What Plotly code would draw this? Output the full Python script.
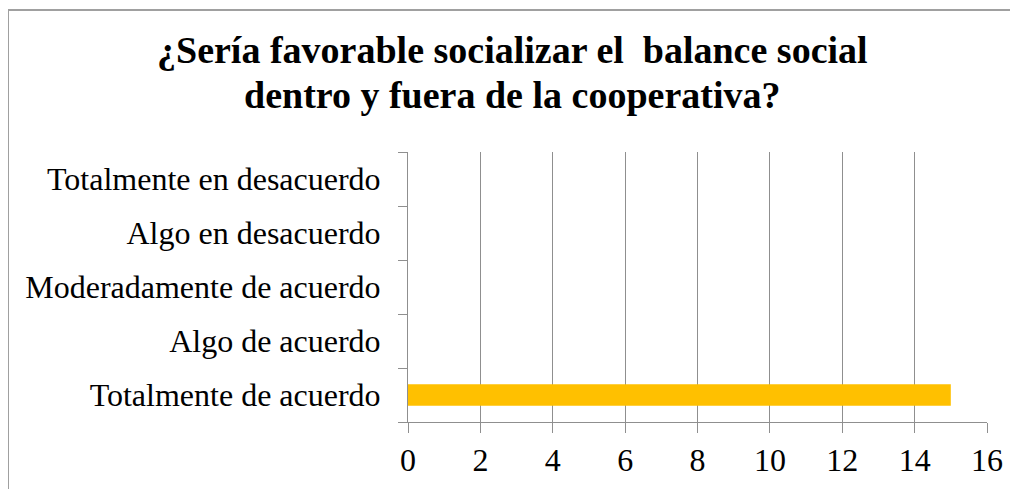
import plotly.graph_objects as go

categories = ["Totalmente de acuerdo", "Algo de acuerdo", "Moderadamente de acuerdo",
              "Algo en desacuerdo", "Totalmente en desacuerdo"]
values = [15, 0, 0, 0, 0]
title_lines = ["¿Sería favorable socializar el  balance social",
               "dentro y fuera de la cooperativa?"]

OFF = 8  # page body margin
W, H = 1018 - OFF, 489 - OFF
L, R, T, B = 408 - OFF, 987 - OFF, 152 - OFF, 422 - OFF


def px_x(px):
    return (px - OFF - L) / (R - L)


def px_y(py):
    return (B - (py - OFF)) / (B - T)


fig = go.Figure(go.Bar(
    x=values, y=categories, orientation="h",
    marker=dict(color="#FFC000", line=dict(width=0)),
    width=0.4,
))

grid = "#8F8F8F"
font = "Liberation Serif, Times New Roman, serif"

annotations = []
for i, (line, yc) in enumerate(zip(title_lines, [50, 95])):
    annotations.append(dict(
        text="<b>" + line + "</b>", xref="paper", yref="paper",
        x=px_x(512), y=px_y(yc), xanchor="center", yanchor="middle",
        showarrow=False, font=dict(family=font, size=38, color="black")))

fig.update_layout(
    width=W, height=H,
    margin=dict(l=L, r=W - R, t=T, b=H - B, pad=0, autoexpand=False),
    paper_bgcolor="white", plot_bgcolor="white",
    showlegend=False,
    annotations=annotations,
    xaxis=dict(range=[0, 16], dtick=2, tick0=0, showgrid=True, gridcolor=grid, gridwidth=1,
               showline=True, linecolor=grid, linewidth=1, ticks="outside", ticklen=10,
               tickcolor=grid, zeroline=False, automargin=False,
               tickfont=dict(family=font, size=32, color="black"), ticklabelstandoff=0),
    yaxis=dict(type="category", categoryorder="array", categoryarray=categories,
               showgrid=False, showline=True, linecolor=grid, linewidth=1,
               ticks="outside", tickson="boundaries", ticklen=9, tickcolor=grid,
               automargin=False,
               tickfont=dict(family=font, size=32, color="black"), ticklabelstandoff=20),
    shapes=[
        dict(type="line", xref="paper", yref="paper", x0=px_x(8), x1=px_x(1030),
             y0=px_y(10), y1=px_y(10), line=dict(color="#A0A0A0", width=2)),
        dict(type="line", xref="paper", yref="paper", x0=px_x(8), x1=px_x(8),
             y0=px_y(10), y1=px_y(500), line=dict(color="#A0A0A0", width=2)),
    ],
)

fig.write_html("out.html")
